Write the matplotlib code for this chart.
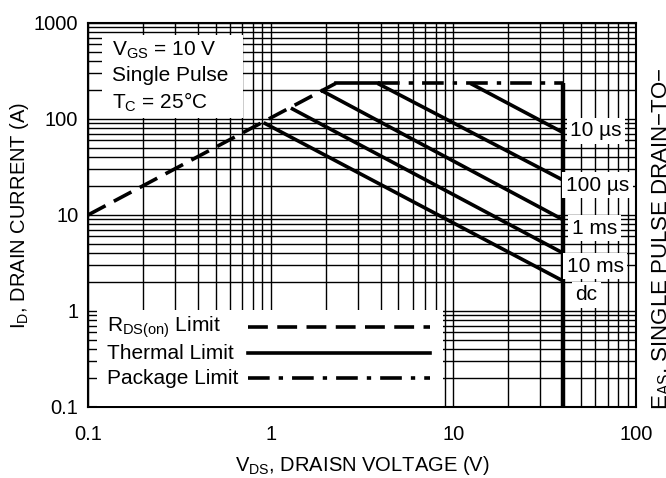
import matplotlib
matplotlib.use("Agg")
import matplotlib.pyplot as plt
from matplotlib.ticker import FixedLocator, FixedFormatter, LogLocator, NullFormatter
from matplotlib.patches import Rectangle

plt.rcParams['font.family'] = ['Liberation Sans', 'DejaVu Sans']
plt.rcParams['mathtext.fontset'] = 'custom'
plt.rcParams['mathtext.rm'] = 'Liberation Sans'
plt.rcParams['mathtext.it'] = 'Liberation Sans'

# ---- data ----
rds_v = [0.1, 2.27]
rds_i = [10, 235]
pkg_v = [3.85, 40]
pkg_i = [235, 235]
flat_v = [2.27, 3.85]
flat_i = [235, 235]
t10us_v = [12.4, 40]
t10us_i = [235, 72]
t100us_v = [3.85, 40]
t100us_i = [235, 23]
t1ms_v = [1.88, 40]
t1ms_i = [200, 8.9]
t10ms_v = [1.29, 40]
t10ms_i = [130, 4.0]
tdc_v = [0.915, 40]
tdc_i = [91.5, 2.05]
bv_v = [40, 40]
bv_i = [235, 0.1]

xticks = [0.1, 1, 10, 100]
xticklabels = ["0.1", "1", "10", "100"]
yticks = [0.1, 1, 10, 100, 1000]
yticklabels = ["0.1", "1", "10", "100", "1000"]
curve_labels = ["10 µs", "100 µs", "1 ms", "10 ms", "dc"]

FS = 15
TFS = 14.5

fig = plt.figure(figsize=(6.66, 4.78), dpi=100)
ax = fig.add_axes([88/666, 1-407/478, 548/666, 384/478])
ax.set_xscale('log')
ax.set_yscale('log')
ax.set_xlim(0.1, 100)
ax.set_ylim(0.1, 1000)

ax.xaxis.set_major_locator(FixedLocator(xticks))
ax.xaxis.set_major_formatter(FixedFormatter(xticklabels))
ax.yaxis.set_major_locator(FixedLocator(yticks))
ax.yaxis.set_major_formatter(FixedFormatter(yticklabels))
ax.xaxis.set_minor_locator(LogLocator(base=10, subs=range(2, 10), numticks=20))
ax.yaxis.set_minor_locator(LogLocator(base=10, subs=range(2, 10), numticks=20))
ax.xaxis.set_minor_formatter(NullFormatter())
ax.yaxis.set_minor_formatter(NullFormatter())
ax.tick_params(which='both', length=0, labelsize=TFS)
ax.tick_params(axis='x', pad=13)
ax.tick_params(axis='y', pad=7)
ax.grid(which='both', color='black', lw=1.0)
for s in ax.spines.values():
    s.set_linewidth(1.5)
ax.set_axisbelow(True)

lw = 2.6
ax.plot(rds_v, rds_i, color='black', lw=lw, dashes=(5.5, 2.6), zorder=3)
ax.plot(flat_v, flat_i, color='black', lw=lw, zorder=3)
ax.plot(pkg_v, pkg_i, color='black', lw=lw, dashes=(6, 2.5, 1.2, 2.5), zorder=3)
for v, i in [(t10us_v, t10us_i), (t100us_v, t100us_i), (t1ms_v, t1ms_i),
             (t10ms_v, t10ms_i), (tdc_v, tdc_i)]:
    ax.plot(v, i, color='black', lw=lw, zorder=3, solid_capstyle='butt')
ax.plot(bv_v, bv_i, color='black', lw=3.2, zorder=3, solid_capstyle='butt')

# condition box
ax.add_patch(Rectangle((0.0255, 0.7526), 0.2575, 0.2164, transform=ax.transAxes,
                       facecolor='white', edgecolor='none', zorder=4))
ax.text(0.0438, 0.93, r"V$_{\mathrm{GS}}$ = 10 V", transform=ax.transAxes, fontsize=FS,
        va='center', ha='left', zorder=5)
ax.text(0.0438, 0.862, "Single Pulse", transform=ax.transAxes, fontsize=FS,
        va='center', ha='left', zorder=5)
ax.text(0.0438, 0.794, r"T$_{\mathrm{C}}$ = 25°C", transform=ax.transAxes, fontsize=FS,
        va='center', ha='left', zorder=5)

# legend box
ax.add_patch(Rectangle((0.0164, 0.003), 0.632, 0.2496, transform=ax.transAxes,
                       facecolor='white', edgecolor='none', zorder=4))
leg_y = [0.208, 0.1406, 0.0755]
leg_txt = [r"R$_{\mathrm{DS(on)}}$ Limit", "Thermal Limit", "Package Limit"]
leg_dash = [(5.5, 2.6), None, (6, 2.5, 1.2, 2.5)]
for y, t, d in zip(leg_y, leg_txt, leg_dash):
    ax.text(0.0347, y, t, transform=ax.transAxes, fontsize=FS, va='center', ha='left', zorder=5)
    ln, = ax.plot([0.292, 0.624], [y, y], transform=ax.transAxes, color='black', lw=lw, zorder=5)
    if d is not None:
        ln.set_dashes(d)

# curve labels
lab_x = [0.88, 0.872, 0.883, 0.874, 0.889]
lab_y = [0.719, 0.578, 0.466, 0.367, 0.292]
for x, y, t in zip(lab_x, lab_y, curve_labels):
    ax.text(x, y, t, transform=ax.transAxes, fontsize=FS, va='center', ha='left', zorder=5,
            bbox=dict(facecolor='white', edgecolor='none', pad=2.5))

ax.set_xlabel(r"V$_{\mathrm{DS}}$, DRAISN VOLTAGE (V)", fontsize=TFS, va='center')
ax.xaxis.set_label_coords(0.5, -0.152)
ax.set_ylabel(r"I$_{\mathrm{D}}$, DRAIN CURRENT (A)", fontsize=TFS, va='center')
ax.yaxis.set_label_coords(-0.125, 0.5)

fig.text(650/666, 1-410/478, r"E$_{\mathrm{AS}}$, SINGLE PULSE DRAIN−TO−", rotation=90,
         ha='left', va='bottom', fontsize=16)

fig.savefig("out.png", dpi=100)
